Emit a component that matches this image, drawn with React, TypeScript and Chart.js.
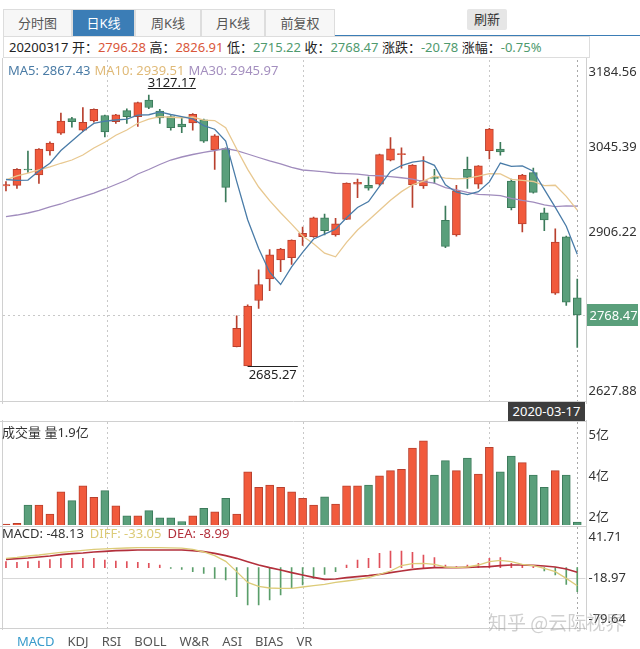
import React, { useEffect, useRef } from "react";
import { Chart, registerables } from "chart.js";

Chart.register(...registerables);

// ---------------- data ----------------
const tabs = ["分时图", "日K线", "周K线", "月K线", "前复权"];
const activeTab = 1;
const refreshLabel = "刷新";
const indicatorTabs = ["MACD", "KDJ", "RSI", "BOLL", "W&R", "ASI", "BIAS", "VR"];
const lastDate = "2020-03-17";
const infoDate = "20200317";
const infoLabels = ["开", "高", "低", "收", "涨跌", "涨幅"];
const infoValues = ["2796.28", "2826.91", "2715.22", "2768.47", "-20.78", "-0.75%"];
const infoUp = [true, true, false, false, false, false];

const opens = [2979, 2980, 3006.5, 2997, 3036, 3065, 3089, 3070, 3085, 3094, 3084, 3102, 3092, 3119, 3101, 3092, 3080, 3082, 3087, 3038, 3040, 2716.7, 2685.27, 2792, 2827, 2858, 2862, 2896, 2896, 2927, 2899, 2924.5, 2982, 2980, 2982, 3021, 3030, 2981, 2979, 2992, 2923, 2899, 3006, 2982, 3036.5, 3039, 2987, 2917, 3000.7, 2935, 2804, 2896, 2796.28];
const highs = [2986, 3007.5, 3036, 3040, 3051, 3098, 3091, 3107, 3105, 3094.5, 3096, 3105, 3116, 3127.17, 3104, 3094, 3091, 3097, 3088, 3063, 3041, 2767, 2785, 2842, 2875, 2877, 2891, 2912, 2928, 2933, 2926, 2984, 2990, 2994, 3031, 3058, 3041, 3014, 3027, 3006, 2946, 2980, 3026, 3012, 3073, 3050, 2990, 2998, 3008, 2943, 2909, 2897, 2826.91];
const lows = [2971, 2975, 3001, 2983, 3029, 3063, 3075, 3068, 3083, 3059, 3081, 3081, 3076, 3105, 3081, 3070, 3066, 3070, 3050, 3006, 2953, 2716, 2685.27, 2779, 2808, 2839, 2851, 2882, 2895, 2899, 2897, 2924, 2960, 2972, 2980, 3020, 3008, 2944, 2975, 2983, 2878, 2897, 2975, 2975, 3023, 3029, 2940, 2904, 2967, 2906, 2802, 2784, 2715.22];
const closes = [2981, 3006, 3005, 3039, 3049, 3085, 3084, 3083, 3104, 3067, 3095, 3092, 3115, 3107, 3090, 3074, 3075.5, 3095.8, 3052, 3060.7, 2976.5, 2746.6, 2783, 2818, 2866.5, 2876, 2890.5, 2901.7, 2926.9, 2906, 2917, 2983.6, 2985, 2975.4, 3030, 3039.7, 3031.2, 3013, 2987.9, 2991.3, 2880.3, 2971, 2993, 3011.7, 3071.7, 3034.5, 2943.3, 2996.8, 2968.5, 2923.5, 2887.4, 2789.25, 2768.47];

const ma5 = [2989.5, 2988, 2988.5, 3003.5, 3016, 3036.8, 3052.4, 3068, 3081, 3084.6, 3086.6, 3088.2, 3094.6, 3095.2, 3099.8, 3095.6, 3092.3, 3088.5, 3077.5, 3071.6, 3052.1, 2986.3, 2923.8, 2877, 2838.1, 2818, 2846.8, 2870.5, 2892.3, 2900.2, 2908.4, 2927, 2943.7, 2953.4, 2978.2, 3002.7, 3012.3, 3017.9, 3020.4, 3012.6, 2980.7, 2968.7, 2964.7, 2969.5, 2985.5, 3016.4, 3010.8, 3011.6, 3003, 2973.3, 2943.9, 2913.1, 2867.43];
const ma10 = [2988.7, 2995.2, 3000, 3005, 3010, 3016, 3021.3, 3029.5, 3040.9, 3050.3, 3061.7, 3070.3, 3081.3, 3088.1, 3092.2, 3091.1, 3090.3, 3091.5, 3086.3, 3085.7, 3073.9, 3039.3, 3006.1, 2977.2, 2954.9, 2935.1, 2916.6, 2897.2, 2884.6, 2869.2, 2863.2, 2886.9, 2907.1, 2922.9, 2939.2, 2955.6, 2969.7, 2980.8, 2986.9, 2995.4, 2991.7, 2990.5, 2991.3, 2994.9, 2999.1, 2998.6, 2989.8, 2988.2, 2986.2, 2979.4, 2980.1, 2962, 2939.51];
const ma30 = [2928.7, 2931.5, 2934.8, 2938.9, 2944.6, 2949.5, 2956, 2961.7, 2967.4, 2974, 2981.3, 2988.7, 2998.5, 3005.8, 3014, 3021.3, 3026.2, 3030.3, 3033.6, 3036.8, 3040.1, 3036.8, 3031.1, 3025.4, 3019.7, 3014.8, 3009.1, 3005, 3003.7, 3001.8, 2999.7, 2999, 2998.3, 2996.2, 2995.6, 2994.1, 2992.3, 2990, 2986.1, 2983.6, 2976.4, 2972.4, 2968.3, 2965.1, 2964.5, 2963.2, 2958.8, 2955.5, 2952.7, 2948.1, 2945.1, 2946.5, 2945.97];

// volume, 亿
const volumes = [1.83, 1.86, 2.48, 2.48, 2.17, 2.93, 2.63, 3.13, 2.74, 2.97, 2.45, 2.11, 2.11, 2.29, 2.04, 2.04, 1.92, 2.11, 2.37, 2.25, 2.71, 2.17, 3.61, 3.08, 3.16, 3.08, 2.93, 2.71, 2.48, 2.76, 2.51, 3.13, 3.13, 3.16, 3.47, 3.65, 3.69, 4.41, 4.66, 3.5, 3.99, 3.65, 4.07, 3.53, 4.44, 3.61, 4.14, 3.92, 3.5, 3.08, 3.65, 3.5, 1.9];

const diffVals = [18.7, 20.7, 23.4, 25.4, 28.1, 30.7, 32.7, 34.7, 36.7, 37.7, 38.7, 39.4, 40.1, 40.1, 40.1, 39.7, 39.1, 36.7, 31.4, 24.1, 12.7, -7.9, -29.3, -37.3, -40.6, -41.3, -41.3, -38.6, -35.9, -33.3, -29.3, -26.6, -23.9, -19.9, -13.3, -6.6, 4.1, 8.1, 8.7, 6.7, 1.4, 0.1, 1.4, 5.4, 12.1, 14.7, 12.1, 6.7, 4.1, -1.3, -7.9, -21.3, -36];
const deaVals = [16.7, 18.1, 19.4, 21.4, 23.4, 26.1, 28.1, 29.4, 31.4, 32.7, 34.1, 34.7, 35.4, 35.4, 35.4, 35.4, 35.4, 34.1, 32.1, 28.7, 24.1, 18.7, 12.1, 5.4, 0.1, -4.6, -9.9, -14.6, -19.3, -23.3, -22.6, -19.9, -17.9, -15.9, -13.3, -9.9, -6.6, -3.3, -1.3, 0.1, 0.1, 0.1, 0.7, 1.4, 2.1, 4.1, 5.4, 5.4, 4.7, 3.4, 1.4, -2.6, -9];
const macdVals = [12, 10.6, 12, 13.4, 16, 18.6, 18.6, 18.6, 18.6, 15.4, 13.4, 12, 10.6, 8.6, 5.4, -1.4, -3.4, -8, -11.4, -21.4, -24.6, -58, -74.6, -74.6, -64.6, -54.6, -41.4, -34.6, -21.4, -13.4, -8, 5.4, 15.4, 18.6, 28.6, 33.4, 33.4, 30.6, 25.4, 20, 5.4, 2, 5.4, 8.6, 18.6, 20, 8.6, 6.6, 2, -6.6, -14.6, -33.4, -48.13];

const priceTicks = [3184.56, 3045.39, 2906.22, 2627.88];
const volTickLabels = ["5亿", "4亿", "2亿"];
const macdTickLabels = ["41.71", "-18.97", "-79.64"];
const maLegend = [
  { name: "MA5", value: "2867.43" },
  { name: "MA10", value: "2939.51" },
  { name: "MA30", value: "2945.97" },
];
const volHeader = "成交量 量1.9亿";
const macdHeader = { macd: "-48.13", diff: "-33.05", dea: "-8.99" };
const watermark = "知乎 @云际视界";

// ---------------- style ----------------
const FONT = '"Noto Sans", "Noto Sans CJK SC", sans-serif';
const RED = "#f15a3c";
const RED_D = "#b8402e";
const GREEN = "#5a9f7b";
const GREEN_D = "#3c7b5b";
const MA_COLORS = ["#4a7ca8", "#e8c890", "#a08cbd"];
const MA_TEXT = ["#4b7ca6", "#e0ba78", "#a48fbf"];
const DIFF_C = "#dccb78";
const DEA_C = "#b3303c";
const BAR_RED = "#e0505a";
const BAR_GREEN = "#5a9e6a";
const GRID = "#c8c8c8";
const BORDER = "#d0d0d0";

const N = closes.length;
const X_MIN = -0.27;
const X_MAX = 52.75;
const PAD = { left: 3, right: 54.5 };
const gridCols = [9.2, 27, 44];
const idx = closes.map((_, i) => i);
const up = idx.map((i) => closes[i] >= opens[i]);

function vline(ctx: CanvasRenderingContext2D, x: number, y0: number, y1: number) {
  ctx.beginPath();
  ctx.moveTo(x, y0);
  ctx.lineTo(x, y1);
  ctx.stroke();
}
function hline(ctx: CanvasRenderingContext2D, y: number, x0: number, x1: number) {
  ctx.beginPath();
  ctx.moveTo(x0, y);
  ctx.lineTo(x1, y);
  ctx.stroke();
}

function drawGrid(chart: any) {
  const { ctx, chartArea: a, scales } = chart;
  const x = scales.x;
  ctx.save();
  ctx.strokeStyle = GRID;
  ctx.lineWidth = 1;
  ctx.setLineDash([2, 3]);
  for (const g of gridCols) {
    const px = Math.round(x.getPixelForValue(g)) + 0.5;
    vline(ctx, px, a.top, a.bottom);
  }
  const lx = Math.round(x.getPixelForValue(N - 1)) + 0.5;
  ctx.strokeStyle = "#a8a8a8";
  vline(ctx, lx, a.top, a.bottom);
  ctx.restore();
}

function drawBorders(chart: any, top: boolean, bottom: boolean) {
  const { ctx, chartArea: a, height } = chart;
  ctx.save();
  ctx.strokeStyle = BORDER;
  ctx.lineWidth = 1;
  vline(ctx, Math.round(a.left) - 0.5, 0, height);
  vline(ctx, Math.round(a.right) + 0.5, 0, height);
  if (top) hline(ctx, Math.round(a.top) - 0.5, 0, Math.round(a.right) + 1);
  if (bottom) hline(ctx, Math.round(a.bottom) + 0.5, 0, Math.round(a.right) + 1);
  ctx.restore();
}

const mainPlugin = {
  id: "mainOverlay",
  beforeDatasetsDraw(chart: any) {
    drawGrid(chart);
    const { ctx, chartArea: a, scales } = chart;
    const py = Math.round(scales.y.getPixelForValue(closes[N - 1])) + 0.5;
    ctx.save();
    ctx.strokeStyle = GRID;
    ctx.setLineDash([2, 3]);
    hline(ctx, py, a.left, a.right);
    ctx.restore();
  },
  afterDraw(chart: any) {
    const { ctx, chartArea: a, scales } = chart;
    const x = scales.x;
    const y = scales.y;
    drawBorders(chart, false, true);
    ctx.save();
    ctx.font = "13px " + FONT;
    ctx.fillStyle = "#333";
    ctx.textAlign = "left";
    priceTicks.forEach((v, k) => {
      let py = y.getPixelForValue(v);
      if (k === 0) py += 12;
      else if (k === priceTicks.length - 1) py -= 10;
      else py += 2;
      ctx.textBaseline = "middle";
      ctx.fillText(v.toFixed(2), a.right + 3, py);
    });
    // current price box
    const cy = y.getPixelForValue(closes[N - 1]);
    ctx.fillStyle = GREEN;
    ctx.fillRect(Math.round(a.right) + 1, Math.round(cy) - 11, 51, 22);
    ctx.fillStyle = "#fff";
    ctx.font = "13px " + FONT;
    ctx.fillText(closes[N - 1].toFixed(2), a.right + 4, cy + 1);
    // high / low marks
    let hi = 0;
    let lo = 0;
    highs.forEach((v, i) => { if (v > highs[hi]) hi = i; });
    lows.forEach((v, i) => { if (v < lows[lo]) lo = i; });
    ctx.font = "13px " + FONT;
    ctx.fillStyle = "#222";
    ctx.strokeStyle = "#222";
    ctx.lineWidth = 1;
    const hx = x.getPixelForValue(hi) - 1;
    const hy = Math.round(y.getPixelForValue(highs[hi])) - 6.5;
    const hTxt = highs[hi].toFixed(2);
    const hw = ctx.measureText(hTxt).width;
    ctx.textBaseline = "alphabetic";
    ctx.fillText(hTxt, hx, hy - 1.5);
    hline(ctx, hy, hx, hx + hw);
    const lx = x.getPixelForValue(lo);
    const ly = Math.round(y.getPixelForValue(lows[lo])) + 0.5;
    const lTxt = lows[lo].toFixed(2);
    const lw = ctx.measureText(lTxt).width;
    hline(ctx, ly, lx, lx + lw + 2);
    ctx.textBaseline = "top";
    ctx.fillText(lTxt, lx + 1, ly + 2);
    ctx.restore();
  },
};

const volPlugin = {
  id: "volOverlay",
  beforeDatasetsDraw(chart: any) {
    drawGrid(chart);
  },
  afterDraw(chart: any) {
    const { ctx, chartArea: a } = chart;
    drawBorders(chart, true, false);
    ctx.save();
    ctx.font = "13px " + FONT;
    ctx.fillStyle = "#333";
    ctx.textBaseline = "middle";
    const ys = [a.top + 13, (a.top + a.bottom) / 2 + 3, a.bottom - 8];
    volTickLabels.forEach((t, k) => ctx.fillText(t, a.right + 3, ys[k]));
    ctx.fillText(volHeader, 2, a.top + 11);
    ctx.restore();
  },
};

const macdPlugin = {
  id: "macdOverlay",
  beforeDatasetsDraw(chart: any) {
    drawGrid(chart);
    const { ctx, chartArea: a } = chart;
    ctx.save();
    ctx.strokeStyle = "#d8d8d8";
    ctx.lineWidth = 1;
    hline(ctx, Math.round((a.top + a.bottom) / 2) + 0.5, a.left, a.right);
    ctx.restore();
  },
  afterDraw(chart: any) {
    const { ctx, chartArea: a } = chart;
    drawBorders(chart, true, true);
    ctx.save();
    ctx.font = "13px " + FONT;
    ctx.fillStyle = "#333";
    ctx.textBaseline = "middle";
    const ys = [a.top + 10, (a.top + a.bottom) / 2 + 1, a.bottom - 9];
    macdTickLabels.forEach((t, k) => ctx.fillText(t, a.right + 3, ys[k]));
    let cx = 2;
    const parts: [string, string][] = [
      ["MACD: " + macdHeader.macd, "#333"],
      ["DIFF: " + macdHeader.diff, DIFF_C],
      ["DEA: " + macdHeader.dea, DEA_C],
    ];
    for (const [t, c] of parts) {
      ctx.fillStyle = c;
      ctx.fillText(t, cx, a.top + 7);
      cx += ctx.measureText(t).width + 6;
    }
    ctx.restore();
  },
};

const baseOptions = (pad: any, ymin: number, ymax: number) => ({
  animation: false as const,
  responsive: false,
  maintainAspectRatio: false,
  layout: { padding: pad },
  scales: {
    x: { type: "linear" as const, min: X_MIN, max: X_MAX, offset: false, display: false },
    y: { type: "linear" as const, min: ymin, max: ymax, display: false },
  },
  plugins: { legend: { display: false }, tooltip: { enabled: false } },
});

function mainConfig(): any {
  const line = (data: number[], color: string) => ({
    type: "line",
    data: data.map((v, i) => ({ x: i, y: v })),
    borderColor: color,
    borderWidth: 1.3,
    pointRadius: 0,
    tension: 0,
    order: 0,
  });
  return {
    type: "bar",
    data: {
      datasets: [
        line(ma5, MA_COLORS[0]),
        line(ma10, MA_COLORS[1]),
        line(ma30, MA_COLORS[2]),
        {
          type: "bar",
          data: idx.map((i) => ({ x: i, y: [Math.min(opens[i], closes[i]), Math.max(opens[i], closes[i])] })),
          backgroundColor: idx.map((i) => (up[i] ? RED : GREEN)),
          borderColor: idx.map((i) => (up[i] ? RED_D : GREEN_D)),
          borderWidth: 1,
          borderSkipped: false,
          barThickness: 8,
          minBarLength: 1,
          grouped: false,
          order: 1,
        },
        {
          type: "bar",
          data: idx.map((i) => ({ x: i, y: [lows[i], highs[i]] })),
          backgroundColor: idx.map((i) => (up[i] ? RED_D : GREEN_D)),
          borderWidth: 0,
          barThickness: 1,
          grouped: false,
          order: 2,
        },
      ],
    },
    options: baseOptions({ left: PAD.left, right: PAD.right, top: 2, bottom: 3 }, 2627.88, 3184.56),
    plugins: [mainPlugin],
  };
}

function volConfig(): any {
  return {
    type: "bar",
    data: {
      datasets: [
        {
          data: volumes.map((v, i) => ({ x: i, y: v })),
          backgroundColor: idx.map((i) => (up[i] ? RED : GREEN)),
          borderColor: idx.map((i) => (up[i] ? RED_D : GREEN_D)),
          borderWidth: 1,
          borderSkipped: false,
          barThickness: 8,
          grouped: false,
        },
      ],
    },
    options: baseOptions({ left: PAD.left, right: PAD.right, top: 2, bottom: 4 }, 1.8, 5.3),
    plugins: [volPlugin],
  };
}

function macdConfig(): any {
  return {
    type: "bar",
    data: {
      datasets: [
        {
          type: "line",
          data: diffVals.map((v, i) => ({ x: i, y: v })),
          borderColor: DIFF_C,
          borderWidth: 1.3,
          pointRadius: 0,
          order: 0,
        },
        {
          type: "line",
          data: deaVals.map((v, i) => ({ x: i, y: v })),
          borderColor: DEA_C,
          borderWidth: 1.6,
          pointRadius: 0,
          order: 0,
        },
        {
          type: "bar",
          data: macdVals.map((v, i) => ({ x: i, y: v })),
          backgroundColor: macdVals.map((v) => (v >= 0 ? BAR_RED : BAR_GREEN)),
          barThickness: 1,
          grouped: false,
          order: 1,
        },
      ],
    },
    options: baseOptions({ left: PAD.left, right: PAD.right, top: 1, bottom: 2 }, -120.6, 81.4),
    plugins: [macdPlugin],
  };
}

function ChartBox({ top, height, build }: { top: number; height: number; build: () => any }) {
  const ref = useRef<HTMLCanvasElement>(null);
  useEffect(() => {
    const chart = new Chart(ref.current as HTMLCanvasElement, build());
    return () => chart.destroy();
  }, []);
  return (
    <canvas
      ref={ref}
      width={640}
      height={height}
      style={{ position: "absolute", left: 0, top, width: 640, height }}
    />
  );
}

const tabPos = [
  { left: 3, width: 69 },
  { left: 72, width: 63 },
  { left: 135, width: 66 },
  { left: 201, width: 64 },
  { left: 265, width: 70 },
];

export default function App() {
  return (
    <div
      style={{
        position: "absolute",
        left: 0,
        top: 0,
        width: 640,
        height: 649,
        background: "#fff",
        overflow: "hidden",
        fontFamily: FONT,
        fontSize: 13,
        color: "#333",
      }}
    >
      {tabs.map((t, i) => (
        <div
          key={t}
          style={{
            position: "absolute",
            left: tabPos[i].left,
            top: 9,
            width: tabPos[i].width,
            height: 27,
            boxSizing: "border-box",
            border: "1px solid #ddd",
            borderBottom: "none",
            background: i === activeTab ? "#3b7db6" : "#f7f7f7",
            color: i === activeTab ? "#fff" : "#555",
            textAlign: "center",
            lineHeight: "26px",
            fontSize: 13,
          }}
        >
          {t}
        </div>
      ))}
      <div
        style={{
          position: "absolute",
          left: 467,
          top: 9,
          width: 40,
          height: 21,
          background: "#e6e6e6",
          borderRadius: 2,
          textAlign: "center",
          lineHeight: "21px",
          fontSize: 13,
          color: "#333",
        }}
      >
        {refreshLabel}
      </div>
      <div style={{ position: "absolute", left: 335, top: 35, width: 305, height: 1, background: "#3b7db6" }} />
      <div
        style={{
          position: "absolute",
          left: 3,
          top: 36,
          width: 587,
          height: 22,
          boxSizing: "border-box",
          border: "1px solid #ddd",
          paddingLeft: 5,
          lineHeight: "20px",
          fontSize: 13,
          whiteSpace: "nowrap",
          color: "#222",
        }}
      >
        {infoDate}
        {infoLabels.map((l, i) => (
          <span key={l}>
            {" " + l + "："}
            <span style={{ color: infoUp[i] ? "#d9573a" : "#4f9a6e" }}>{infoValues[i]}</span>
          </span>
        ))}
      </div>

      <ChartBox top={58} height={346} build={mainConfig} />
      <ChartBox top={420} height={109} build={volConfig} />
      <ChartBox top={526} height={104} build={macdConfig} />

      <div style={{ position: "absolute", left: 8, top: 61, fontSize: 13, whiteSpace: "nowrap", lineHeight: "18px" }}>
        {maLegend.map((m, i) => (
          <span key={m.name} style={{ color: MA_TEXT[i], marginRight: 4 }}>
            {m.name + ": " + m.value}
          </span>
        ))}
      </div>

      <div
        style={{
          position: "absolute",
          left: 508,
          top: 402,
          width: 77,
          height: 19,
          background: "#3d3d3d",
          color: "#fff",
          fontSize: 13,
          lineHeight: "19px",
          textAlign: "center",
        }}
      >
        {lastDate}
      </div>

      <div style={{ position: "absolute", left: 17, top: 632, whiteSpace: "nowrap", fontSize: 13, lineHeight: "18px" }}>
        {indicatorTabs.map((t, i) => (
          <span key={t} style={{ color: i === 0 ? "#3a9ccc" : "#555", marginRight: 13 }}>
            {t}
          </span>
        ))}
      </div>

      <div
        style={{
          position: "absolute",
          left: 488,
          top: 608,
          fontSize: 19,
          color: "rgba(150,150,150,0.45)",
          fontFamily: '"Noto Sans CJK SC", sans-serif',
          whiteSpace: "nowrap",
        }}
      >
        {watermark}
      </div>
    </div>
  );
}
